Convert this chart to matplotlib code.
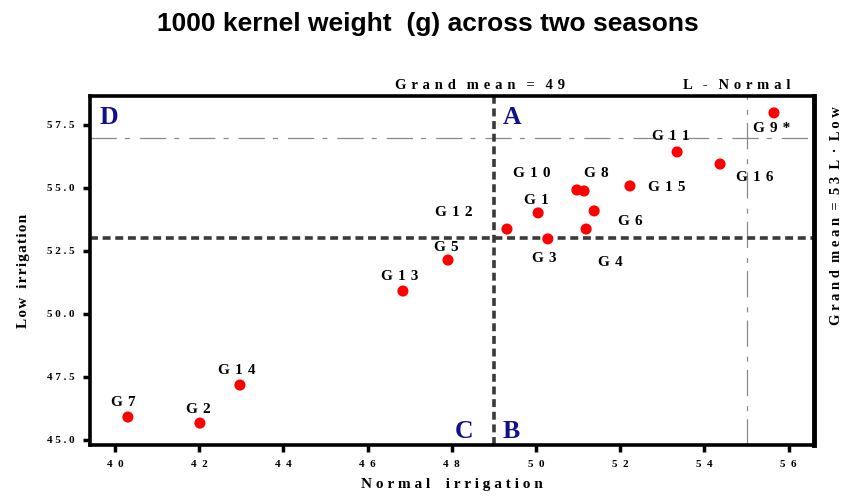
import matplotlib
matplotlib.use("Agg")
import matplotlib.pyplot as plt

# ---- data ----
genotypes = ["G1", "G2", "G3", "G4", "G5", "G6", "G7", "G8", "G9*", "G10",
             "G11", "G12", "G13", "G14", "G15", "G16"]
normal_irr = [50.05, 42.02, 50.28, 51.19, 47.91, 51.38, 40.31, 51.14, 55.65, 50.97,
              53.35, 49.31, 46.84, 42.97, 52.23, 54.37]
low_irr = [54.01, 45.67, 52.98, 53.37, 52.14, 54.09, 45.91, 54.88, 57.98, 54.92,
           56.43, 53.37, 50.91, 47.18, 55.08, 55.95]
grand_mean_normal = 49
grand_mean_low = 53
l_normal = 55
l_low = 57
x_ticks = [40, 42, 44, 46, 48, 50, 52, 54, 56]
y_ticks = [45.0, 47.5, 50.0, 52.5, 55.0, 57.5]

# label offsets (pixels) relative to each point
label_offsets = {
    "G1": (-2, 12), "G2": (-2, 14), "G3": (-4, -20), "G4": (24, -33),
    "G5": (-2, 13), "G6": (36, -11), "G7": (-5, 15), "G8": (12, 17),
    "G9*": (-2, -16), "G10": (-45, 16), "G11": (-6, 15), "G12": (-53, 17),
    "G13": (-3, 15), "G14": (-3, 15), "G15": (37, -2), "G16": (35, -13),
}

HAIR = "\u200a"


def track(s, sep=" ", word_sep="   "):
    words = s.split(" ")
    return word_sep.join(sep.join(list(w)) for w in words)


serif = ["Liberation Serif", "DejaVu Serif"]
navy = "#10108a"

fig = plt.figure(figsize=(8.45, 5.04), dpi=100)
ax = fig.add_axes([90/845, 1-445/504, (814-90)/845, (445-96)/504])

ax.set_xlim(39.41, 56.60)
ax.set_ylim(44.80, 58.65)

# reference lines
ax.axhline(grand_mean_low, color="#3a3a3a", lw=2.6, ls=(0, (2.2, 1.3)), zorder=2)
ax.axvline(grand_mean_normal, color="#3a3a3a", lw=2.6, ls=(0, (2.2, 1.3)), zorder=2)
ax.axhline(l_low, color="#8a8a8a", lw=0.9, ls=(0, (21, 6.5, 4, 8)), zorder=1)
ax.axvline(l_normal, color="#8a8a8a", lw=0.9, ls=(0, (21, 6.5, 4, 8)), zorder=1)

ax.scatter(normal_irr, low_irr, s=64, color="#ff0000", edgecolors="none", zorder=3)

for g, xv, yv in zip(genotypes, normal_irr, low_irr):
    dx, dy = label_offsets[g]
    ax.annotate(track(g, " " + HAIR), (xv, yv), xytext=(dx * 0.72, dy * 0.72),
                textcoords="offset points", ha="center", va="center",
                fontsize=11, fontweight="bold", family=serif, zorder=4)

# quadrant letters
for letter, xv, yv, ha in [("D", 39.63, 57.80, "left"), ("A", 49.2, 57.80, "left"),
                            ("C", 48.50, 45.35, "right"), ("B", 49.2, 45.35, "left")]:
    ax.text(xv, yv, letter, color=navy, fontsize=18.5, fontweight="bold",
            family=serif, ha=ha, va="center", zorder=4)

ax.set_xticks(x_ticks)
ax.set_xticklabels([track(str(t), "  ") for t in x_ticks])
ax.set_yticks(y_ticks)
ax.set_yticklabels([track(f"{t:.1f}") for t in y_ticks])
ax.tick_params(axis="both", direction="out", length=5, width=2.5,
               labelsize=8, pad=6)
for lab in ax.get_xticklabels() + ax.get_yticklabels():
    lab.set_fontweight("bold")
    lab.set_family(serif)

for sp in ax.spines.values():
    sp.set_linewidth(2.6)
    sp.set_color("black")
ax.spines["right"].set_linewidth(3.5)

ax.set_xlabel(track("Normal irrigation", " ", "    "), fontsize=11, fontweight="bold",
              family=serif, labelpad=6)
ax.set_ylabel(track("Low irrigation", HAIR, "  " + HAIR), fontsize=11,
              fontweight="bold", family=serif, labelpad=12)

# top and right annotations
fig.text(480/845, 1-85/504, track("Grand mean = 49", " " + HAIR, "   "),
         fontsize=10.5, fontweight="bold", family=serif, ha="center", va="center")
fig.text(737/845, 1-85/504, track("L - Normal", " " + HAIR, "   "),
         fontsize=10.5, fontweight="bold", family=serif, ha="center", va="center")
fig.text(837/845, 1-216/504, track("Grand mean = 53 L · Low", " ", "  "),
         fontsize=10.5, fontweight="bold", family=serif, ha="center", va="center",
         rotation=90)

fig.text(428/845, 1-31/504, "1000 kernel weight  (g) across two seasons",
         fontsize=19, fontweight="bold", family="Liberation Sans",
         ha="center", va="baseline")

fig.savefig("out.png", dpi=100)
